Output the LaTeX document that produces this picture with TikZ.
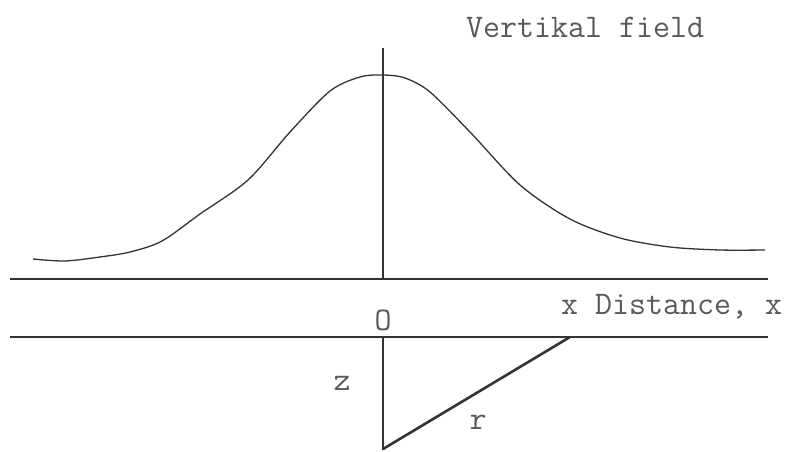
\documentclass[tikz,border=0pt]{standalone}
\begin{document}
\begin{tikzpicture}[x=1pt,y=-1pt,
  lbl/.style={font=\ttfamily\fontsize{33}{33}\selectfont, text=black!65, inner sep=0pt},
  thinline/.style={draw=black!80, line width=1.3pt},
  thickline/.style={draw=black!80, line width=2.6pt}]
\useasboundingbox (0,0) rectangle (795,452);
% axes
\coordinate (top) at (383,48);
\coordinate (o1) at (383,279);
\coordinate (o2) at (383,337);
\coordinate (bot) at (383,449);
\coordinate (hl1) at (10,279);
\coordinate (hr1) at (768,279);
\coordinate (hl2) at (10,337);
\coordinate (hr2) at (768,337);
\coordinate (xs) at (570,337);
\draw[thinline] (hl1) -- (hr1);
\draw[thinline] (hl2) -- (hr2);
\draw[thinline] (top) -- (o1);
\draw[thinline] (o2) -- (bot);
\draw[thickline, line cap=round] (bot) -- (xs);
% curve
\draw[thinline, line join=round] plot[smooth, tension=0.5] coordinates {
 (33,259) (65,261) (100,257) (130,252) (162,241) (200,214) (248,180)
 (290,132) (330,91) (360,77) (383,75) (405,78) (430,92) (470,132)
 (520,185) (570,219) (620,238) (670,247) (720,250) (765,250)};
% labels
\node[lbl, anchor=west] (title) at (466,27) {Vertikal field};
\node[lbl] (O) at (383,320) {O};
\node[lbl, anchor=west] (dist) at (561,307) {x Distance, x};
\node[lbl] (z) at (342,383) {z};
\node[lbl] (r) at (478,422) {r};
\end{tikzpicture}
\end{document}
